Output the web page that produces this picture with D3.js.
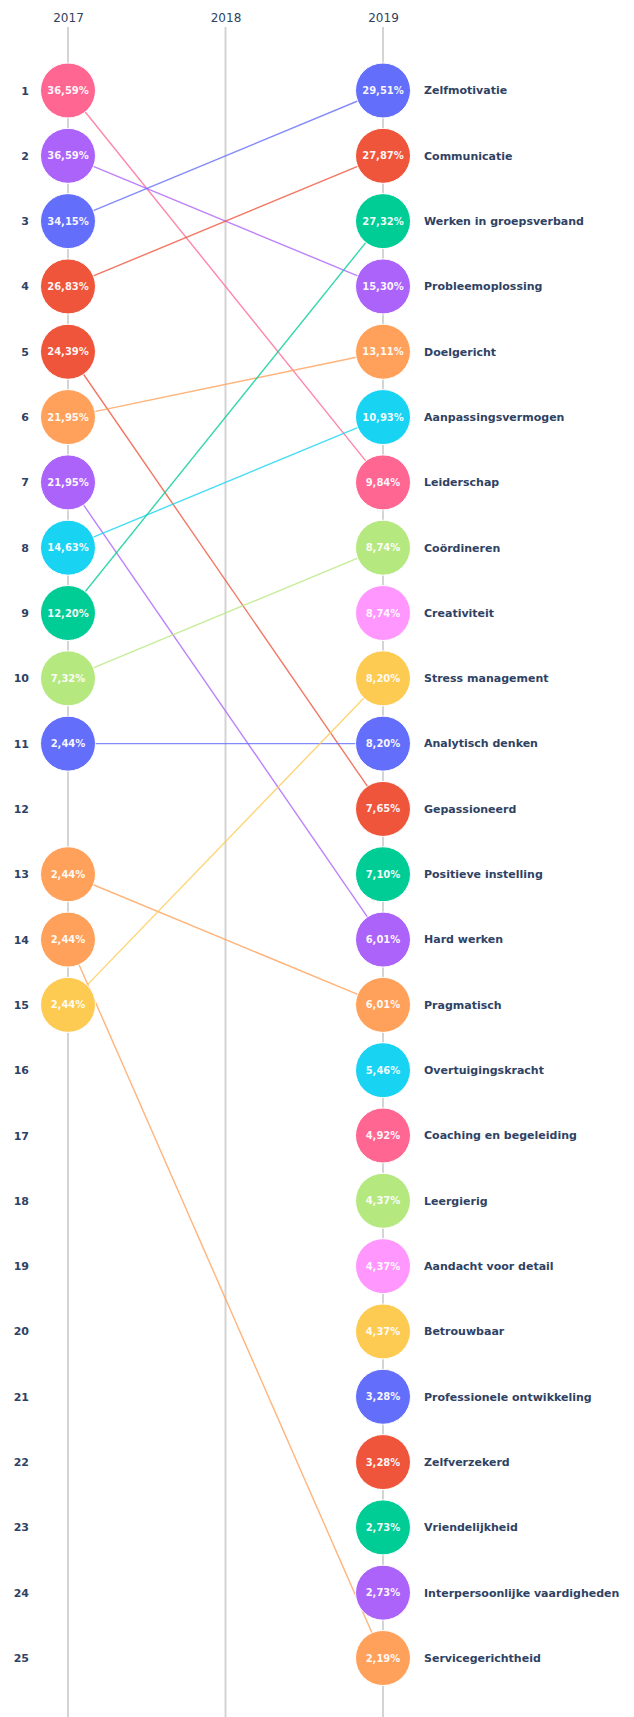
<!DOCTYPE html>
<html>
<head>
<meta charset="utf-8">
<script src="https://cdn.jsdelivr.net/npm/d3@7"></script>
<style>
  html, body { margin: 0; padding: 0; background: #fff; }
  svg { display: block; font-family: "DejaVu Sans", Verdana, sans-serif; }
</style>
</head>
<body>
<svg id="chart" width="634" height="1717"></svg>
<script>
// ----
// data
// ----

var years = ['2017', '2018', '2019'];

var ranks = d3.range(1, 26);

var skills2019 = [
  'Zelfmotivatie', 'Communicatie', 'Werken in groepsverband', 'Probleemoplossing',
  'Doelgericht', 'Aanpassingsvermogen', 'Leiderschap', 'Coördineren', 'Creativiteit',
  'Stress management', 'Analytisch denken', 'Gepassioneerd', 'Positieve instelling',
  'Hard werken', 'Pragmatisch', 'Overtuigingskracht', 'Coaching en begeleiding',
  'Leergierig', 'Aandacht voor detail', 'Betrouwbaar', 'Professionele ontwikkeling',
  'Zelfverzekerd', 'Vriendelijkheid', 'Interpersoonlijke vaardigheden', 'Servicegerichtheid'
];

var values2019 = [
  '29,51%', '27,87%', '27,32%', '15,30%', '13,11%', '10,93%', '9,84%', '8,74%', '8,74%',
  '8,20%', '8,20%', '7,65%', '7,10%', '6,01%', '6,01%', '5,46%', '4,92%', '4,37%',
  '4,37%', '4,37%', '3,28%', '3,28%', '2,73%', '2,73%', '2,19%'
];

// 2017 ranks, their values and the 2019 rank of the same skill
var ranks2017 = [1, 2, 3, 4, 5, 6, 7, 8, 9, 10, 11, 13, 14, 15];
var values2017 = [
  '36,59%', '36,59%', '34,15%', '26,83%', '24,39%', '21,95%', '21,95%',
  '14,63%', '12,20%', '7,32%', '2,44%', '2,44%', '2,44%', '2,44%'
];
var target2019 = [7, 4, 1, 2, 12, 5, 14, 6, 3, 8, 11, 15, 25, 10];

var palette = ['#636efa', '#ef553b', '#00cc96', '#ab63fa', '#ffa15a',
  '#19d3f3', '#ff6692', '#b6e880', '#ff97ff', '#fecb52'];

// ------
// layout
// ------

var width = 634, height = 1717;
var radius = 27.5;
var textColor = '#2f4263';

var svg = d3.select('#chart');

var x = d3.scalePoint().domain(years).range([68, 383]);
var y = d3.scaleLinear().domain([1, 25]).range([90.5, 1658]);

var colorOf = function (rank2019) {
  return palette[(rank2019 - 1) % palette.length];
};

// year axis lines
svg.append('g').selectAll('line')
  .data(years)
  .join('line')
  .attr('x1', function (d) { return x(d); })
  .attr('x2', function (d) { return x(d); })
  .attr('y1', 27)
  .attr('y2', height)
  .attr('stroke', '#d4d4d4')
  .attr('stroke-width', 2);

// year labels
var topAxis = svg.append('g')
  .attr('transform', 'translate(0,27)')
  .call(d3.axisTop(x).tickSize(0).tickPadding(5));
topAxis.select('.domain').remove();
topAxis.selectAll('text')
  .attr('font-family', '"DejaVu Sans", Verdana, sans-serif')
  .attr('font-size', 12)
  .attr('fill', textColor);

// rank labels
var leftAxis = svg.append('g')
  .attr('transform', 'translate(29,0)')
  .call(d3.axisLeft(y).tickValues(ranks).tickFormat(d3.format('d')).tickSize(0).tickPadding(0));
leftAxis.select('.domain').remove();
leftAxis.selectAll('text')
  .attr('font-family', '"DejaVu Sans", Verdana, sans-serif')
  .attr('font-size', 11)
  .attr('font-weight', 'bold')
  .attr('fill', textColor);

// connecting lines 2017 -> 2019
var links = ranks2017.map(function (r, i) {
  return { from: r, to: target2019[i] };
});

svg.append('g').selectAll('line')
  .data(links)
  .join('line')
  .attr('x1', x('2017'))
  .attr('y1', function (d) { return y(d.from); })
  .attr('x2', x('2019'))
  .attr('y2', function (d) { return y(d.to); })
  .attr('stroke', function (d) { return colorOf(d.to); })
  .attr('stroke-opacity', 0.8)
  .attr('stroke-width', 1.4);

// renders a column of bubbles
var renderBubbles = function (year, data) {
  var node = svg.append('g').selectAll('g')
    .data(data)
    .join('g')
    .attr('transform', function (d) {
      return 'translate(' + x(year) + ',' + y(d.rank) + ')';
    });

  node.append('circle')
    .attr('r', radius)
    .attr('fill', function (d) { return d.color; })
    .attr('stroke', '#fff')
    .attr('stroke-width', 1);

  node.append('text')
    .attr('text-anchor', 'middle')
    .attr('dy', '0.35em')
    .attr('font-size', 10)
    .attr('font-weight', 'bold')
    .attr('fill', '#fff')
    .attr('fill-opacity', 0.95)
    .text(function (d) { return d.value; });

  return node;
};

renderBubbles('2017', ranks2017.map(function (r, i) {
  return { rank: r, value: values2017[i], color: colorOf(target2019[i]) };
}));

var right = renderBubbles('2019', skills2019.map(function (s, i) {
  return { rank: i + 1, value: values2019[i], name: s, color: colorOf(i + 1) };
}));

// skill names
right.append('text')
  .attr('x', 424 - x('2019'))
  .attr('dy', '0.35em')
  .attr('font-size', 11)
  .attr('font-weight', 'bold')
  .attr('fill', textColor)
  .text(function (d) { return d.name; });
</script>
</body>
</html>
